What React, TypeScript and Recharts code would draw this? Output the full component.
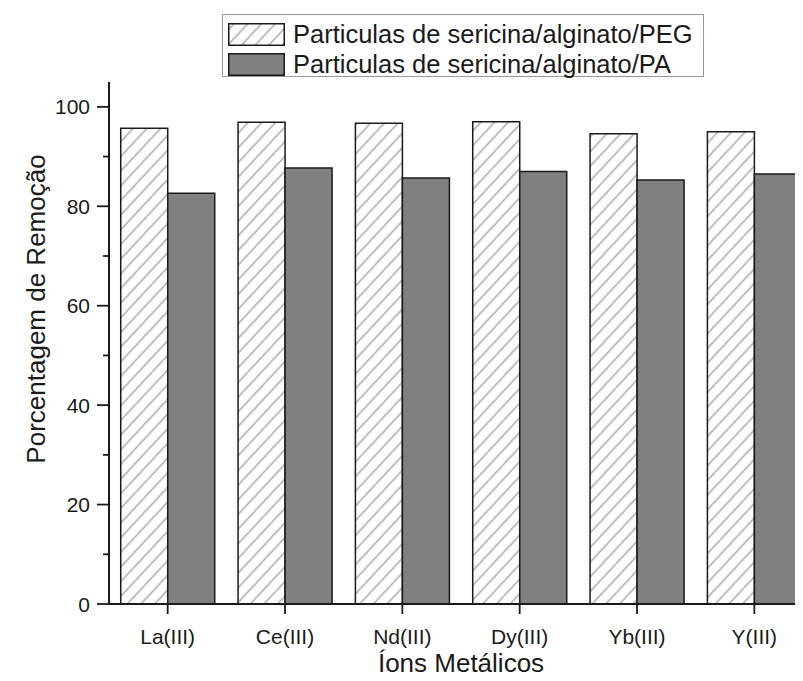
import { BarChart, Bar, XAxis, YAxis, Legend, Label } from "recharts";

const categories = ["La(III)", "Ce(III)", "Nd(III)", "Dy(III)", "Yb(III)", "Y(III)"];
const pegValues = [95.7, 96.9, 96.7, 97.0, 94.6, 95.0];
const paValues = [82.6, 87.7, 85.7, 87.0, 85.3, 86.5];
const yTicks = [0, 10, 20, 30, 40, 50, 60, 70, 80, 90, 100];
const seriesNames = ["Particulas de sericina/alginato/PEG", "Particulas de sericina/alginato/PA"];

const data = categories.map((name, i) => ({ name, peg: pegValues[i], pa: paValues[i] }));

const FONT = "Arial, 'Liberation Sans', sans-serif";
const INK = "#1a1a1a";

const YTick = (props: any) => {
  const { x, y, payload } = props;
  const major = payload.value % 20 === 0;
  return (
    <g>
      <line x1={x - (major ? 12 : 6)} x2={x} y1={y} y2={y} stroke={INK} strokeWidth={1.8} />
      {major && (
        <text x={x - 19} y={y} dy="0.36em" textAnchor="end" fontSize={21} fill={INK} fontFamily={FONT}>
          {payload.value}
        </text>
      )}
    </g>
  );
};

const YTitle = (props: any) => {
  const { viewBox } = props;
  const cx = 45;
  const cy = viewBox.y + viewBox.height / 2 - 34;
  return (
    <text x={cx} y={cy} transform={`rotate(-90, ${cx}, ${cy})`} textAnchor="middle" fontSize={26} fill={INK} fontFamily={FONT}>
      Porcentagem de Remoção
    </text>
  );
};

const Swatch = ({ fill }: { fill: string }) => (
  <svg width={57} height={23} style={{ display: "block" }}>
    <rect x={0.75} y={0.75} width={55.5} height={21.5} fill={fill} stroke={INK} strokeWidth={1.5} />
  </svg>
);

const renderLegend = () => (
  <div
    style={{
      boxSizing: "border-box",
      width: 482,
      height: 63,
      border: "1px solid #999",
      background: "#fff",
      padding: "4px 0 0 5px",
      fontFamily: FONT,
      fontSize: 25.5,
      color: INK,
    }}
  >
    {[
      { name: seriesNames[0], fill: "url(#hatch)" },
      { name: seriesNames[1], fill: "#808080" },
    ].map((s) => (
      <div key={s.name} style={{ display: "flex", alignItems: "center", height: 30.5, lineHeight: "25px" }}>
        <Swatch fill={s.fill} />
        <span style={{ marginLeft: 8, whiteSpace: "nowrap" }}>{s.name}</span>
      </div>
    ))}
  </div>
);

export default function App() {
  return (
    <div style={{ margin: -8, width: 803, height: 681, overflow: "hidden", position: "relative", background: "#fff" }}>
      <svg width={0} height={0} style={{ position: "absolute" }}>
        <defs>
          <pattern id="hatch" width={10} height={10} patternUnits="userSpaceOnUse" patternTransform="rotate(43)">
            <rect width={10} height={10} fill="#fff" />
            <line x1={5} y1={0} x2={5} y2={10} stroke="#8a8a8a" strokeWidth={1.1} />
          </pattern>
        </defs>
      </svg>
      <BarChart
        width={820}
        height={681}
        data={data}
        margin={{ top: 82, right: 7, bottom: 0, left: 0 }}
        barCategoryGap="10%"
        barGap={0}
      >
        <XAxis
          dataKey="name"
          height={77}
          axisLine={{ stroke: INK, strokeWidth: 1.8 }}
          tickSize={10}
          tickMargin={15}
          tick={{ fontSize: 21, fill: INK, fontFamily: FONT }}
          tickLine={{ stroke: INK, strokeWidth: 1.8 }}
          interval={0}
        >
          <Label value="Íons Metálicos" position="insideBottom" offset={9} fontSize={26} fill={INK} fontFamily={FONT} />
        </XAxis>
        <YAxis
          width={109}
          domain={[0, 105]}
          ticks={yTicks}
          interval={0}
          axisLine={{ stroke: INK, strokeWidth: 2 }}
          tickLine={false}
          tickSize={0}
          tickMargin={0}
          tick={<YTick />}
        >
          <Label content={<YTitle />} />
        </YAxis>
        <Legend
          layout="horizontal"
          verticalAlign="middle"
          align="center"
          content={renderLegend}
          wrapperStyle={{ top: 14, left: 222, width: 482, height: 63 }}
        />
        <Bar dataKey="peg" name={seriesNames[0]} fill="url(#hatch)" stroke={INK} strokeWidth={1.5} isAnimationActive={false} />
        <Bar dataKey="pa" name={seriesNames[1]} fill="#808080" stroke={INK} strokeWidth={1.5} isAnimationActive={false} />
      </BarChart>
    </div>
  );
}
